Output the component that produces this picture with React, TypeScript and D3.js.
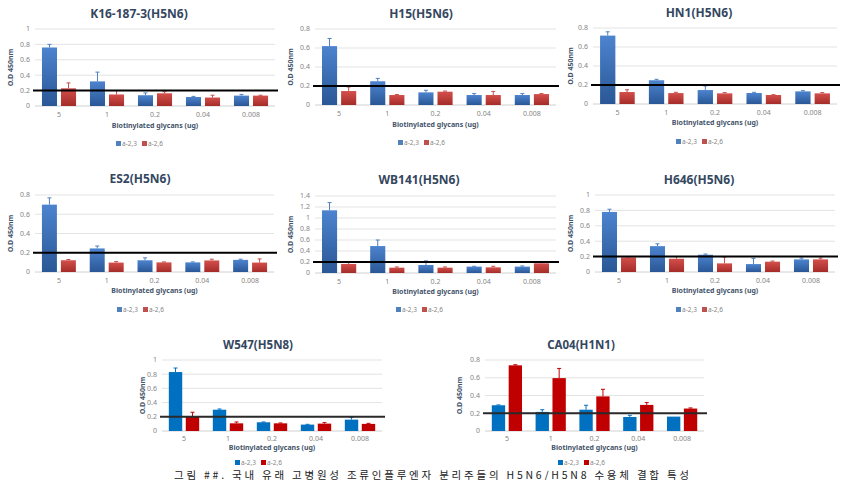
import React from "react";
import * as d3 from "d3";

const categories = ["5", "1", "0.2", "0.04", "0.008"];
const seriesNames = ["a-2,3", "a-2,6"];
const panelTitles = ["K16-187-3(H5N6)", "H15(H5N6)", "HN1(H5N6)", "ES2(H5N6)", "WB141(H5N6)", "H646(H5N6)", "W547(H5N8)", "CA04(H1N1)"];
const yMaxes = [1, 0.8, 0.8, 0.8, 1.4, 1, 1, 0.8];
const thresholdValue = 0.2;
const xAxisTitle = "Biotinylated glycans (ug)";
const yAxisTitle = "O.D 450nm";
const captionText = "그림 ##. 국내 유래 고병원성 조류인플루엔자 분리주들의 H5N6/H5N8 수용체 결합 특성";

// means and upper error (cap - mean) for a-2,3 and a-2,6
const k16A23 = [0.76, 0.32, 0.14, 0.117, 0.135];
const k16A23Err = [0.04, 0.12, 0.03, 0.008, 0.015];
const k16A26 = [0.23, 0.15, 0.165, 0.11, 0.135];
const k16A26Err = [0.07, 0.05, 0.02, 0.03, 0.005];

const h15A23 = [0.62, 0.25, 0.133, 0.105, 0.105];
const h15A23Err = [0.08, 0.03, 0.022, 0.015, 0.015];
const h15A26 = [0.147, 0.105, 0.14, 0.105, 0.115];
const h15A26Err = [0.043, 0.005, 0.007, 0.038, 0.005];

const hn1A23 = [0.72, 0.25, 0.147, 0.116, 0.133];
const hn1A23Err = [0.04, 0.01, 0.043, 0.007, 0.007];
const hn1A26 = [0.126, 0.115, 0.112, 0.095, 0.112];
const hn1A26Err = [0.024, 0.008, 0.008, 0.003, 0.008];

const es2A23 = [0.7, 0.245, 0.122, 0.1, 0.126];
const es2A23Err = [0.07, 0.025, 0.025, 0.005, 0.007];
const es2A26 = [0.122, 0.098, 0.1, 0.12, 0.098];
const es2A26Err = [0.008, 0.01, 0.005, 0.013, 0.038];

const wb141A23 = [1.14, 0.49, 0.146, 0.116, 0.116];
const wb141A23Err = [0.14, 0.11, 0.074, 0.006, 0.012];
const wb141A26 = [0.164, 0.097, 0.097, 0.103, 0.176];
const wb141A26Err = [0.026, 0.013, 0.013, 0.019, 0.014];

const h646A23 = [0.78, 0.336, 0.224, 0.103, 0.164];
const h646A23Err = [0.035, 0.03, 0.009, 0.074, 0.016];
const h646A26 = [0.19, 0.172, 0.112, 0.134, 0.164];
const h646A26Err = [0.005, 0.028, 0.082, 0.008, 0.016];

const w547A23 = [0.83, 0.3, 0.123, 0.09, 0.16];
const w547A23Err = [0.057, 0.01, 0.004, 0.004, 0.03];
const w547A26 = [0.207, 0.108, 0.108, 0.104, 0.1];
const w547A26Err = [0.057, 0.019, 0.005, 0.014, 0.008];

const ca04A23 = [0.29, 0.215, 0.24, 0.158, 0.162];
const ca04A23Err = [0.004, 0.025, 0.05, 0.019, 0];
const ca04A26 = [0.74, 0.596, 0.39, 0.294, 0.253];
const ca04A26Err = [0.007, 0.109, 0.08, 0.026, 0.007];

const panelValues = [
  [k16A23, k16A26], [h15A23, h15A26], [hn1A23, hn1A26],
  [es2A23, es2A26], [wb141A23, wb141A26], [h646A23, h646A26],
  [w547A23, w547A26], [ca04A23, ca04A26],
];
const panelErrors = [
  [k16A23Err, k16A26Err], [h15A23Err, h15A26Err], [hn1A23Err, hn1A26Err],
  [es2A23Err, es2A26Err], [wb141A23Err, wb141A26Err], [h646A23Err, h646A26Err],
  [w547A23Err, w547A26Err], [ca04A23Err, ca04A26Err],
];

type Layout = {
  x0: number; x1: number; yTop: number; yBottom: number;
  titleX: number; titleY: number; titleSize: number; yTitleX: number;
  labOff: number; xtOff: number; legOff: number; flat: boolean; pad: number;
};

const layouts: Layout[] = [
  { x0: 35, x1: 275, yTop: 29, yBottom: 106, titleX: 139, titleY: 18, titleSize: 12, yTitleX: 13, labOff: 11, xtOff: 22, legOff: 38, flat: false, pad: 0.29 },
  { x0: 315, x1: 556, yTop: 29, yBottom: 105, titleX: 421, titleY: 18, titleSize: 12, yTitleX: 293, labOff: 11, xtOff: 22, legOff: 38, flat: false, pad: 0.29 },
  { x0: 593, x1: 837, yTop: 28, yBottom: 104, titleX: 699, titleY: 17, titleSize: 12, yTitleX: 573, labOff: 11, xtOff: 21, legOff: 38, flat: false, pad: 0.29 },
  { x0: 35, x1: 274, yTop: 195, yBottom: 272, titleX: 140, titleY: 183, titleSize: 12, yTitleX: 13, labOff: 11, xtOff: 21, legOff: 38, flat: false, pad: 0.29 },
  { x0: 315, x1: 556, yTop: 196, yBottom: 273, titleX: 419, titleY: 184, titleSize: 12, yTitleX: 293, labOff: 11, xtOff: 21, legOff: 37, flat: false, pad: 0.29 },
  { x0: 595, x1: 835, yTop: 195, yBottom: 272, titleX: 699, titleY: 184, titleSize: 12, yTitleX: 573, labOff: 11, xtOff: 21, legOff: 38, flat: false, pad: 0.29 },
  { x0: 162, x1: 382, yTop: 360, yBottom: 431, titleX: 258, titleY: 349, titleSize: 11.5, yTitleX: 145, labOff: 10, xtOff: 19, legOff: 32, flat: true, pad: 0.31 },
  { x0: 485, x1: 704, yTop: 360, yBottom: 431, titleX: 581, titleY: 349, titleSize: 11.5, yTitleX: 462, labOff: 10, xtOff: 19, legOff: 32, flat: true, pad: 0.31 },
];

const FONT = "'Noto Sans', 'DejaVu Sans', sans-serif";
const TICK_COLOR = "#858585";
const AXIS_TITLE_COLOR = "#44546a";
const TITLE_COLOR = "#34475f";
const GRID_COLOR = "#e3e3e3";
const FLAT_COLORS = ["#0070c0", "#c00000"];
const GRAD_IDS = ["gradBlue", "gradRed"];
const GRAD_ERR_COLORS = ["#4f81bd", "#c0504d"];

function fmt(v: number) {
  return String(+v.toFixed(1));
}

function Panel({ idx }: { idx: number }) {
  const L = layouts[idx];
  const values = panelValues[idx];
  const errors = panelErrors[idx];
  const yMax = yMaxes[idx];
  const y = d3.scaleLinear().domain([0, yMax]).range([L.yBottom, L.yTop]);
  const x0 = d3.scaleBand<string>().domain(categories).range([L.x0, L.x1])
    .paddingInner(L.pad).paddingOuter(L.pad / 2);
  const x1 = d3.scaleBand<string>().domain(seriesNames).range([0, x0.bandwidth()]).paddingInner(0.21);
  const ticks = d3.range(0, yMax + 1e-9, 0.2);
  const midY = (L.yTop + L.yBottom) / 2;
  const legY = L.yBottom + L.legOff;
  const cx = L.titleX;
  const errColors = L.flat ? FLAT_COLORS : GRAD_ERR_COLORS;
  return (
    <g>
      <text x={L.titleX} y={L.titleY} textAnchor="middle" fontSize={L.titleSize} fontWeight="bold" fill={TITLE_COLOR} fontFamily={FONT}>
        {panelTitles[idx]}
      </text>
      {ticks.map((t, i) => (
        <g key={i}>
          <line x1={L.x0} x2={L.x1} y1={y(t)} y2={y(t)} stroke={i === 0 ? "#d0d0d0" : GRID_COLOR} strokeWidth={1} />
          <text x={L.x0 - 5} y={y(t)} dy="0.35em" textAnchor="end" fontSize={7} fill={TICK_COLOR} fontFamily={FONT}>{fmt(t)}</text>
        </g>
      ))}
      {categories.map((c, ci) => (
        <g key={c}>
          {seriesNames.map((s, si) => {
            const v = values[si][ci];
            const e = errors[si][ci];
            const bx = (x0(c) as number) + (x1(s) as number);
            const bw = x1.bandwidth();
            const mx = bx + bw / 2;
            return (
              <g key={s}>
                <rect x={bx} y={y(v)} width={bw} height={y(0) - y(v)}
                  fill={L.flat ? FLAT_COLORS[si] : `url(#${GRAD_IDS[si]})`} />
                {e > 0 && (
                  <g stroke={errColors[si]} strokeWidth={1}>
                    <line x1={mx} x2={mx} y1={y(v)} y2={y(v + e)} />
                    <line x1={mx - 2} x2={mx + 2} y1={y(v + e)} y2={y(v + e)} />
                  </g>
                )}
              </g>
            );
          })}
          <text x={(x0(c) as number) + x0.bandwidth() / 2} y={L.yBottom + L.labOff} textAnchor="middle" fontSize={7} fill={TICK_COLOR} fontFamily={FONT}>{c}</text>
        </g>
      ))}
      <line x1={L.x0 - 2} x2={L.x1 + 3} y1={y(thresholdValue)} y2={y(thresholdValue)} stroke={L.flat ? "#2a2a2a" : "#000"} strokeWidth={2} />
      <text x={(L.x0 + L.x1) / 2} y={L.yBottom + L.xtOff} textAnchor="middle" fontSize={7} fontWeight="bold" fill={AXIS_TITLE_COLOR} fontFamily={FONT}>{xAxisTitle}</text>
      <text transform={`translate(${L.yTitleX},${midY}) rotate(-90)`} textAnchor="middle" fontSize={7} fontWeight="bold" fill={AXIS_TITLE_COLOR} fontFamily={FONT}>{yAxisTitle}</text>
      {seriesNames.map((s, si) => (
        <g key={s}>
          <rect x={cx - 23 + si * 26} y={legY - 3} width={5} height={5} fill={L.flat ? FLAT_COLORS[si] : GRAD_ERR_COLORS[si]} />
          <text x={cx - 17 + si * 26} y={legY} dy="0.33em" fontSize={6.5} fill={TICK_COLOR} fontFamily={FONT}>{s}</text>
        </g>
      ))}
    </g>
  );
}

export default function App() {
  return (
    <svg width={850} height={480} style={{ position: "absolute", left: 0, top: 0, background: "#fff" }}>
      <defs>
        <linearGradient id="gradBlue" x1="0" y1="0" x2="0" y2="1">
          <stop offset="0" stopColor="#4d84cf" />
          <stop offset="1" stopColor="#2a5796" />
        </linearGradient>
        <linearGradient id="gradRed" x1="0" y1="0" x2="0" y2="1">
          <stop offset="0" stopColor="#d44f4b" />
          <stop offset="1" stopColor="#a42c29" />
        </linearGradient>
      </defs>
      <rect x={0} y={0} width={850} height={480} fill="#fff" />
      {layouts.map((_, i) => <Panel key={i} idx={i} />)}
      <text x={174} y={478.5} fontSize={10.5} fill="#222" fontFamily="'Noto Sans CJK KR', sans-serif" textLength={515} lengthAdjust="spacing">
        {captionText}
      </text>
    </svg>
  );
}
